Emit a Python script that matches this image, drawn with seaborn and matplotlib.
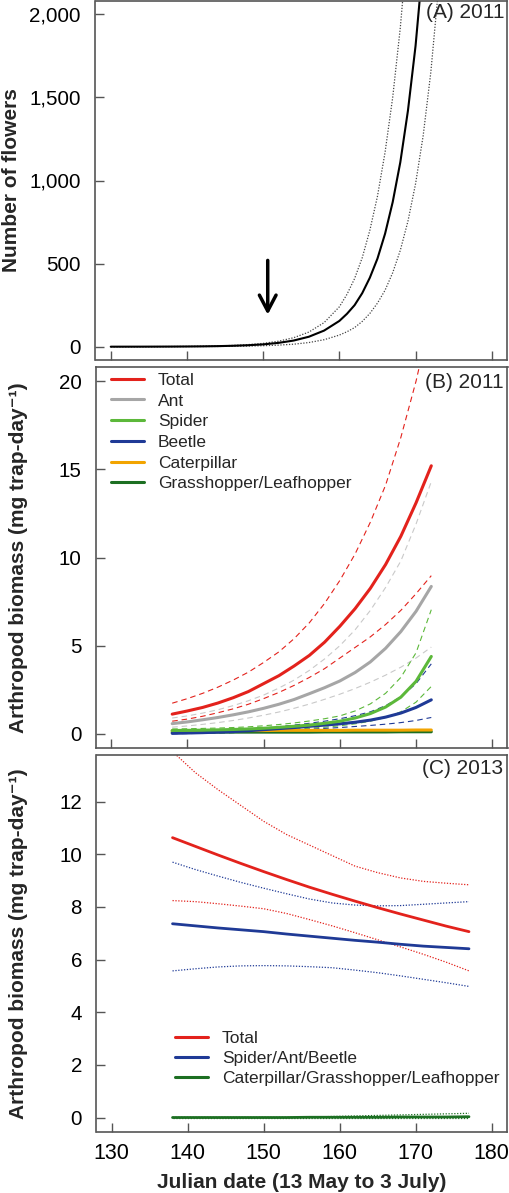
import numpy as np
import pandas as pd
import matplotlib
matplotlib.use("Agg")
import matplotlib.pyplot as plt
import seaborn as sns
from matplotlib.lines import Line2D
from matplotlib.ticker import FuncFormatter

sns.set_theme(style="white")
plt.rcParams["font.family"] = ["Liberation Sans", "DejaVu Sans"]

# ---------------- data ----------------
# Panel A: flowers 2011
a_dates = [130, 132, 134, 136, 138, 140, 142, 144, 146, 148, 150, 152, 154, 156, 158,
           160, 161, 162, 163, 164, 165, 166, 167, 168, 169, 170, 171, 172, 173, 174]
a_fit = [0.1, 0.2, 0.3, 0.5, 0.8, 1.3, 2.1, 3.4, 5.5, 8.8, 14, 23, 37, 60, 97,
         155, 198, 250, 322, 415, 530, 680, 870, 1110, 1420, 1810, 2320, 2950, 3780, 4830]
a_upper = [0.15, 0.3, 0.45, 0.75, 1.2, 1.9, 3.0, 4.8, 7.7, 12.5, 20, 33, 54, 88, 145,
           240, 315, 410, 535, 700, 905, 1170, 1500, 1920, 2450, 3100, 3950, 5000, 6300, 8000]
a_lower = [0.05, 0.1, 0.15, 0.25, 0.4, 0.6, 0.95, 1.5, 2.4, 3.8, 6, 9.5, 15, 25, 42,
           70, 90, 115, 152, 200, 262, 340, 445, 580, 755, 980, 1270, 1650, 2150, 2800]
arrow_date = 150.6
arrow_from, arrow_to = 536, 176

# Panel B: arthropod biomass 2011
b_dates = [138, 140, 142, 144, 146, 148, 150, 152, 154, 156, 158, 160, 162, 164, 166, 168, 170, 172]
b_total = [1.12, 1.30, 1.50, 1.75, 2.05, 2.40, 2.85, 3.30, 3.85, 4.45, 5.20, 6.10, 7.10, 8.25, 9.60, 11.2, 13.1, 15.2]
b_total_up = [1.74, 2.0, 2.3, 2.65, 3.05, 3.5, 4.05, 4.65, 5.4, 6.3, 7.4, 8.7, 10.2, 12.0, 14.1, 16.8, 20.0, 23.8]
b_total_lo = [0.72, 0.84, 1.0, 1.2, 1.42, 1.68, 2.0, 2.35, 2.75, 3.2, 3.7, 4.3, 4.9, 5.5, 6.2, 7.0, 7.95, 8.97]
b_ant = [0.58, 0.68, 0.80, 0.93, 1.08, 1.25, 1.45, 1.68, 1.95, 2.28, 2.62, 3.0, 3.48, 4.08, 4.85, 5.8, 6.95, 8.36]
b_ant_up = [0.9, 1.02, 1.18, 1.37, 1.6, 1.88, 2.2, 2.6, 3.05, 3.6, 4.25, 5.0, 5.9, 7.0, 8.3, 9.8, 11.9, 14.3]
b_ant_lo = [0.38, 0.45, 0.54, 0.64, 0.76, 0.9, 1.06, 1.24, 1.45, 1.69, 1.96, 2.25, 2.57, 2.93, 3.33, 3.78, 4.3, 4.92]
b_spider = [0.19, 0.2, 0.21, 0.23, 0.25, 0.28, 0.32, 0.37, 0.43, 0.5, 0.6, 0.72, 0.9, 1.15, 1.52, 2.08, 2.98, 4.39]
b_spider_up = [0.28, 0.29, 0.31, 0.33, 0.36, 0.4, 0.46, 0.53, 0.62, 0.73, 0.86, 1.02, 1.3, 1.7, 2.3, 3.2, 4.6, 7.04]
b_spider_lo = [0.1, 0.11, 0.12, 0.13, 0.15, 0.17, 0.2, 0.23, 0.27, 0.32, 0.38, 0.46, 0.57, 0.72, 0.93, 1.25, 1.8, 2.69]
b_beetle = [0.03, 0.05, 0.07, 0.1, 0.13, 0.18, 0.24, 0.3, 0.36, 0.43, 0.5, 0.57, 0.66, 0.78, 0.95, 1.18, 1.5, 1.93]
b_beetle_up = [0.06, 0.08, 0.11, 0.15, 0.2, 0.26, 0.33, 0.41, 0.5, 0.6, 0.72, 0.86, 1.03, 1.25, 1.6, 2.1, 2.85, 3.97]
b_beetle_lo = [0.01, 0.02, 0.03, 0.05, 0.07, 0.1, 0.13, 0.17, 0.21, 0.26, 0.31, 0.36, 0.42, 0.48, 0.55, 0.64, 0.76, 0.93]
b_caterpillar = [0.18, 0.18, 0.18, 0.19, 0.19, 0.19, 0.19, 0.2, 0.2, 0.2, 0.2, 0.2, 0.21, 0.21, 0.21, 0.21, 0.22, 0.22]
b_grasshopper = [0.1, 0.1, 0.1, 0.1, 0.1, 0.1, 0.1, 0.1, 0.1, 0.1, 0.11, 0.11, 0.11, 0.11, 0.11, 0.12, 0.12, 0.12]

# Panel C: arthropod biomass 2013
c_dates = [138, 141, 144, 147, 150, 153, 156, 159, 162, 165, 168, 171, 174, 177]
c_total = [10.63, 10.3, 9.97, 9.65, 9.34, 9.04, 8.75, 8.48, 8.22, 7.97, 7.73, 7.5, 7.27, 7.06]
c_total_up = [13.9, 13.1, 12.45, 11.85, 11.25, 10.75, 10.35, 9.95, 9.55, 9.3, 9.1, 8.97, 8.9, 8.84]
c_total_lo = [8.24, 8.2, 8.12, 8.03, 7.93, 7.75, 7.52, 7.28, 7.02, 6.75, 6.48, 6.2, 5.9, 5.57]
c_sab = [7.36, 7.28, 7.2, 7.13, 7.06, 6.97, 6.89, 6.81, 6.73, 6.66, 6.58, 6.51, 6.46, 6.41]
c_sab_up = [9.7, 9.42, 9.17, 8.93, 8.71, 8.5, 8.3, 8.15, 8.07, 8.04, 8.05, 8.1, 8.15, 8.2]
c_sab_lo = [5.57, 5.65, 5.72, 5.76, 5.77, 5.76, 5.73, 5.69, 5.6, 5.5, 5.38, 5.25, 5.12, 4.98]
c_cgl = [0.0, 0.0, 0.0, 0.0, 0.0, 0.0, 0.01, 0.01, 0.01, 0.01, 0.02, 0.02, 0.02, 0.03]
c_cgl_up = [0.01, 0.01, 0.01, 0.01, 0.01, 0.01, 0.02, 0.04, 0.06, 0.08, 0.1, 0.12, 0.14, 0.16]
c_cgl_lo = [0.0, 0.0, 0.0, 0.0, 0.0, 0.0, 0.0, 0.0, 0.0, 0.0, 0.0, 0.0, 0.0, 0.0]

x_ticks = [130, 140, 150, 160, 170, 180]
a_yticks = [0, 500, 1000, 1500, 2000]
b_yticks = [0, 5, 10, 15, 20]
c_yticks = [0, 2, 4, 6, 8, 10, 12]

# ---------------- styling ----------------
RED = "#e3221c"
GRAY = "#a6a6a6"
LGREEN = "#5cb83a"
BLUE = "#1f3a96"
ORANGE = "#f2a400"
DGREEN = "#1c6f22"
FRAME = "#555555"

W, H = 510, 1193
fig = plt.figure(figsize=(W / 100, H / 100), dpi=100)

def axes_px(left, top, right, bottom):
    return fig.add_axes([left / W, 1 - bottom / H, (right - left) / W, (bottom - top) / H])

axA = axes_px(95.5, 1, 507, 360)
axB = axes_px(96, 367, 507.5, 748)
axC = axes_px(96.5, 755, 507, 1132)

def line(ax, x, y, color, lw, ls="-"):
    df = pd.DataFrame({"x": x, "y": y})
    sns.lineplot(data=df, x="x", y="y", ax=ax, color=color, lw=lw, linestyle=ls,
                 estimator=None, sort=False, legend=False)

DASH = (0, (5, 3.5))
DOT = (0, (1, 1.3))

# Panel A
line(axA, a_dates, a_upper, "#444444", 0.9, DOT)
line(axA, a_dates, a_lower, "#444444", 0.9, DOT)
line(axA, a_dates, a_fit, "black", 1.5)
axA.annotate("", xy=(arrow_date, arrow_to), xytext=(arrow_date, arrow_from),
             arrowprops=dict(arrowstyle="->,head_length=0.95,head_width=0.5", lw=2.5, color="black"))
axA.set_ylim(-80, 2080)
axA.set_yticks(a_yticks)
axA.yaxis.set_major_formatter(FuncFormatter(lambda v, p: f"{int(v):,}"))
axA.set_ylabel("Number of flowers", fontsize=15, fontweight="bold")
axA.yaxis.set_label_coords((21 - 95.5) / 411.5, 0.5)
axA.text(0.995, 0.995, "(A) 2011", transform=axA.transAxes, ha="right", va="top", fontsize=15)

# Panel B
line(axB, b_dates, b_total_up, RED, 0.8, DASH)
line(axB, b_dates, b_total_lo, RED, 0.8, DASH)
line(axB, b_dates, b_ant_up, "#c9c9c9", 0.8, DASH)
line(axB, b_dates, b_ant_lo, "#c9c9c9", 0.8, DASH)
line(axB, b_dates, b_spider_up, LGREEN, 0.8, DASH)
line(axB, b_dates, b_spider_lo, LGREEN, 0.8, DASH)
line(axB, b_dates, b_beetle_up, BLUE, 0.8, DASH)
line(axB, b_dates, b_beetle_lo, BLUE, 0.8, DASH)
line(axB, b_dates, b_grasshopper, DGREEN, 2.2)
line(axB, b_dates, b_caterpillar, ORANGE, 2.2)
line(axB, b_dates, b_beetle, BLUE, 2.2)
line(axB, b_dates, b_spider, LGREEN, 2.2)
line(axB, b_dates, b_ant, GRAY, 2.2)
line(axB, b_dates, b_total, RED, 2.2)
axB.set_ylim(-0.8, 20.8)
axB.set_yticks(b_yticks)
axB.set_ylabel("Arthropod biomass (mg trap-day\u207b\u00b9)", fontsize=15, fontweight="bold")
axB.yaxis.set_label_coords((28 - 96) / 411.5, 0.5)
axB.text(0.99, 0.985, "(B) 2011", transform=axB.transAxes, ha="right", va="top", fontsize=15)
b_labels = ["Total", "Ant", "Spider", "Beetle", "Caterpillar", "Grasshopper/Leafhopper"]
b_colors = [RED, GRAY, LGREEN, BLUE, ORANGE, DGREEN]
hB = [Line2D([], [], color=c, lw=2.2) for c in b_colors]
axB.legend(hB, b_labels, loc="upper left", bbox_to_anchor=(0.036, 0.985), frameon=False,
           fontsize=12.5, handlelength=1.9, handletextpad=0.8, labelspacing=0.32,
           borderpad=0, borderaxespad=0)

# Panel C
line(axC, c_dates, c_total_up, RED, 0.9, DOT)
line(axC, c_dates, c_total_lo, RED, 0.9, DOT)
line(axC, c_dates, c_sab_up, BLUE, 0.9, DOT)
line(axC, c_dates, c_sab_lo, BLUE, 0.9, DOT)
line(axC, c_dates, c_cgl_up, DGREEN, 0.9, DOT)
line(axC, c_dates, c_cgl_lo, DGREEN, 0.9, DOT)
line(axC, c_dates, c_cgl, DGREEN, 2.0)
line(axC, c_dates, c_sab, BLUE, 2.0)
line(axC, c_dates, c_total, RED, 2.0)
axC.set_ylim(-0.55, 13.77)
axC.set_yticks(c_yticks)
axC.set_ylabel("Arthropod biomass (mg trap-day\u207b\u00b9)", fontsize=15, fontweight="bold")
axC.yaxis.set_label_coords((28 - 96.5) / 410.5, 0.5)
axC.text(0.99, 0.99, "(C) 2013", transform=axC.transAxes, ha="right", va="top", fontsize=15)
c_labels = ["Total", "Spider/Ant/Beetle", "Caterpillar/Grasshopper/Leafhopper"]
hC = [Line2D([], [], color=c, lw=2.2) for c in [RED, BLUE, DGREEN]]
axC.legend(hC, c_labels, loc="upper left", bbox_to_anchor=((175 - 96.5) / 410.5, 1 - (1030.5 - 755) / 377),
           frameon=False, fontsize=12.5, handlelength=1.9, handletextpad=0.8, labelspacing=0.3,
           borderpad=0, borderaxespad=0)
axC.set_xlabel("Julian date (13 May to 3 July)", fontsize=15, fontweight="bold", labelpad=6.5)

for ax in (axA, axB, axC):
    ax.set_xlim(128, 182)
    ax.set_xticks(x_ticks)
    for s in ax.spines.values():
        s.set_color(FRAME)
        s.set_linewidth(1.2)
    ax.tick_params(axis="both", direction="in", length=6.5, width=1.0, color=FRAME,
                   left=True, bottom=True, labelcolor="black")
    ax.tick_params(axis="y", labelsize=14.8, pad=10.5)
    ax.tick_params(axis="x", labelsize=15.5, pad=8)
    ax.grid(False)
    if ax is not axC:
        ax.tick_params(axis="x", labelbottom=False)

fig.savefig("out.png", dpi=100)
